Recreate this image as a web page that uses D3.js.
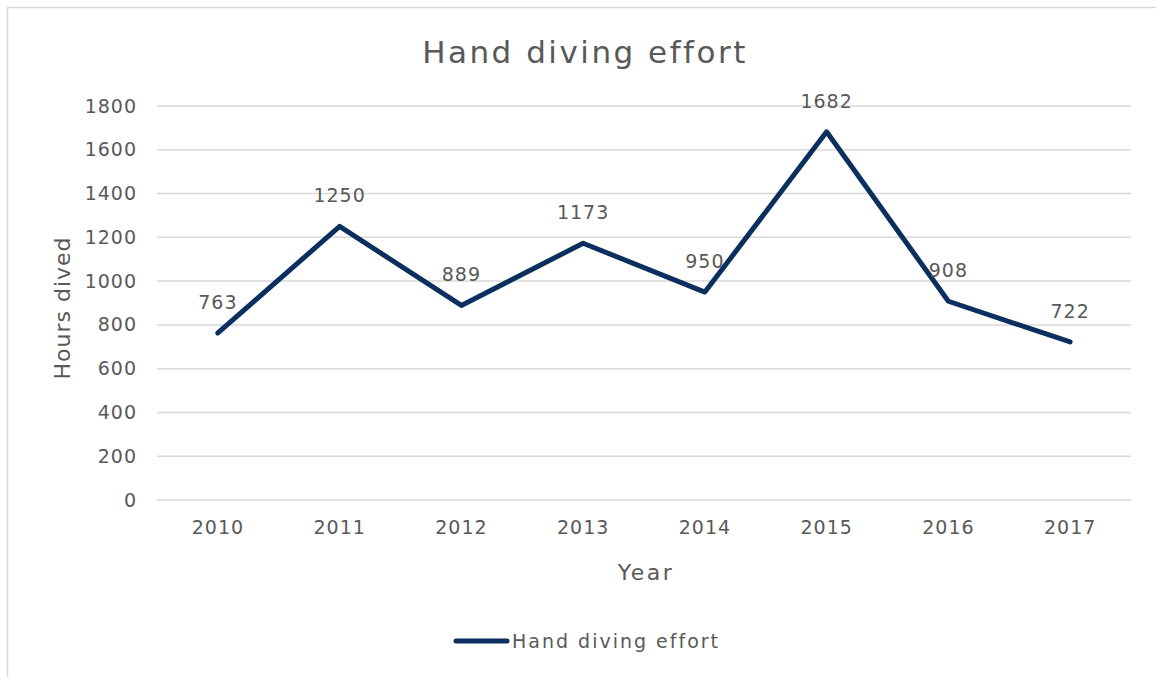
<!DOCTYPE html>
<html>
<head>
<meta charset="utf-8">
<script src="https://cdn.jsdelivr.net/npm/d3@7"></script>
<style>
  body { margin: 0; background: #fff; }
  text { font-family: "DejaVu Sans", sans-serif; fill: #595959; }
</style>
</head>
<body>
<div id="chart"></div>
<script>
// chart data
const years = ["2010", "2011", "2012", "2013", "2014", "2015", "2016", "2017"];
const hours = [763, 1250, 889, 1173, 950, 1682, 908, 722];
const yTicks = [0, 200, 400, 600, 800, 1000, 1200, 1400, 1600, 1800];
const seriesName = "Hand diving effort";

const W = 1156, H = 677;
const margin = {top: 106, right: 25, bottom: 177, left: 157};
const FONT = '"DejaVu Sans", sans-serif';

const svg = d3.select("#chart").append("svg")
  .attr("width", W).attr("height", H);

// outer frame (only top and left edge visible in the picture)
svg.append("rect")
  .attr("x", 7.5).attr("y", 7.5)
  .attr("width", W + 10).attr("height", H + 10)
  .attr("fill", "none").attr("stroke", "#d9d9d9").attr("stroke-width", 1.5);

const x = d3.scaleBand().domain(years)
  .range([margin.left, W - margin.right]);
const y = d3.scaleLinear().domain([0, 1800])
  .range([H - margin.bottom, margin.top]);

// gridlines
svg.append("g").selectAll("line").data(yTicks).join("line")
  .attr("x1", margin.left).attr("x2", W - margin.right)
  .attr("y1", d => y(d)).attr("y2", d => y(d))
  .attr("stroke", "#d9d9d9").attr("stroke-width", 1.5);

// y axis labels
const yAxis = svg.append("g")
  .attr("transform", `translate(${margin.left - 21},0)`)
  .call(d3.axisLeft(y).tickValues(yTicks).tickFormat(d3.format("d"))
    .tickSize(0).tickPadding(0));
yAxis.select(".domain").remove();
yAxis.selectAll("text").style("font-size", "19px").attr("fill", "#595959")
  .style("font-family", FONT).style("letter-spacing", "1px").attr("dx", "1px");

// x axis labels
const xAxis = svg.append("g")
  .attr("transform", `translate(0,${y(0) + 20})`)
  .call(d3.axisBottom(x).tickSize(0).tickPadding(0));
xAxis.select(".domain").remove();
xAxis.selectAll("text").style("font-size", "19px").attr("fill", "#595959")
  .style("font-family", FONT).style("letter-spacing", "1px");

// title
svg.append("text")
  .attr("x", 585).attr("y", 63)
  .attr("text-anchor", "middle")
  .style("font-size", "31px")
  .style("letter-spacing", "2.5px")
  .text(seriesName);

// axis titles
svg.append("text")
  .attr("x", 646).attr("y", 580)
  .attr("text-anchor", "middle")
  .style("font-size", "22px")
  .style("letter-spacing", "2.5px")
  .text("Year");

svg.append("text")
  .attr("transform", "translate(70,308) rotate(-90)")
  .attr("text-anchor", "middle")
  .style("font-size", "22px")
  .style("letter-spacing", "1px")
  .text("Hours dived");

// the line
const cx = d => x(d) + x.bandwidth() / 2;
const pts = years.map((yr, i) => [cx(yr), y(hours[i])]);

svg.append("path")
  .datum(pts)
  .attr("d", d3.line())
  .attr("fill", "none")
  .attr("stroke", "#0b2f5e")
  .attr("stroke-width", 5)
  .attr("stroke-linejoin", "round")
  .attr("stroke-linecap", "round");

// data labels
svg.append("g").selectAll("text").data(years).join("text")
  .attr("x", d => cx(d))
  .attr("y", (d, i) => y(hours[i]) - 24)
  .attr("text-anchor", "middle")
  .style("font-size", "19px")
  .style("letter-spacing", "1px")
  .text((d, i) => hours[i]);

// legend
svg.append("line")
  .attr("x1", 456).attr("x2", 507)
  .attr("y1", 641).attr("y2", 641)
  .attr("stroke", "#0b2f5e").attr("stroke-width", 5)
  .attr("stroke-linecap", "round");
svg.append("text")
  .attr("x", 512).attr("y", 648)
  .style("font-size", "19px")
  .style("letter-spacing", "2px")
  .text(seriesName);
</script>
</body>
</html>
